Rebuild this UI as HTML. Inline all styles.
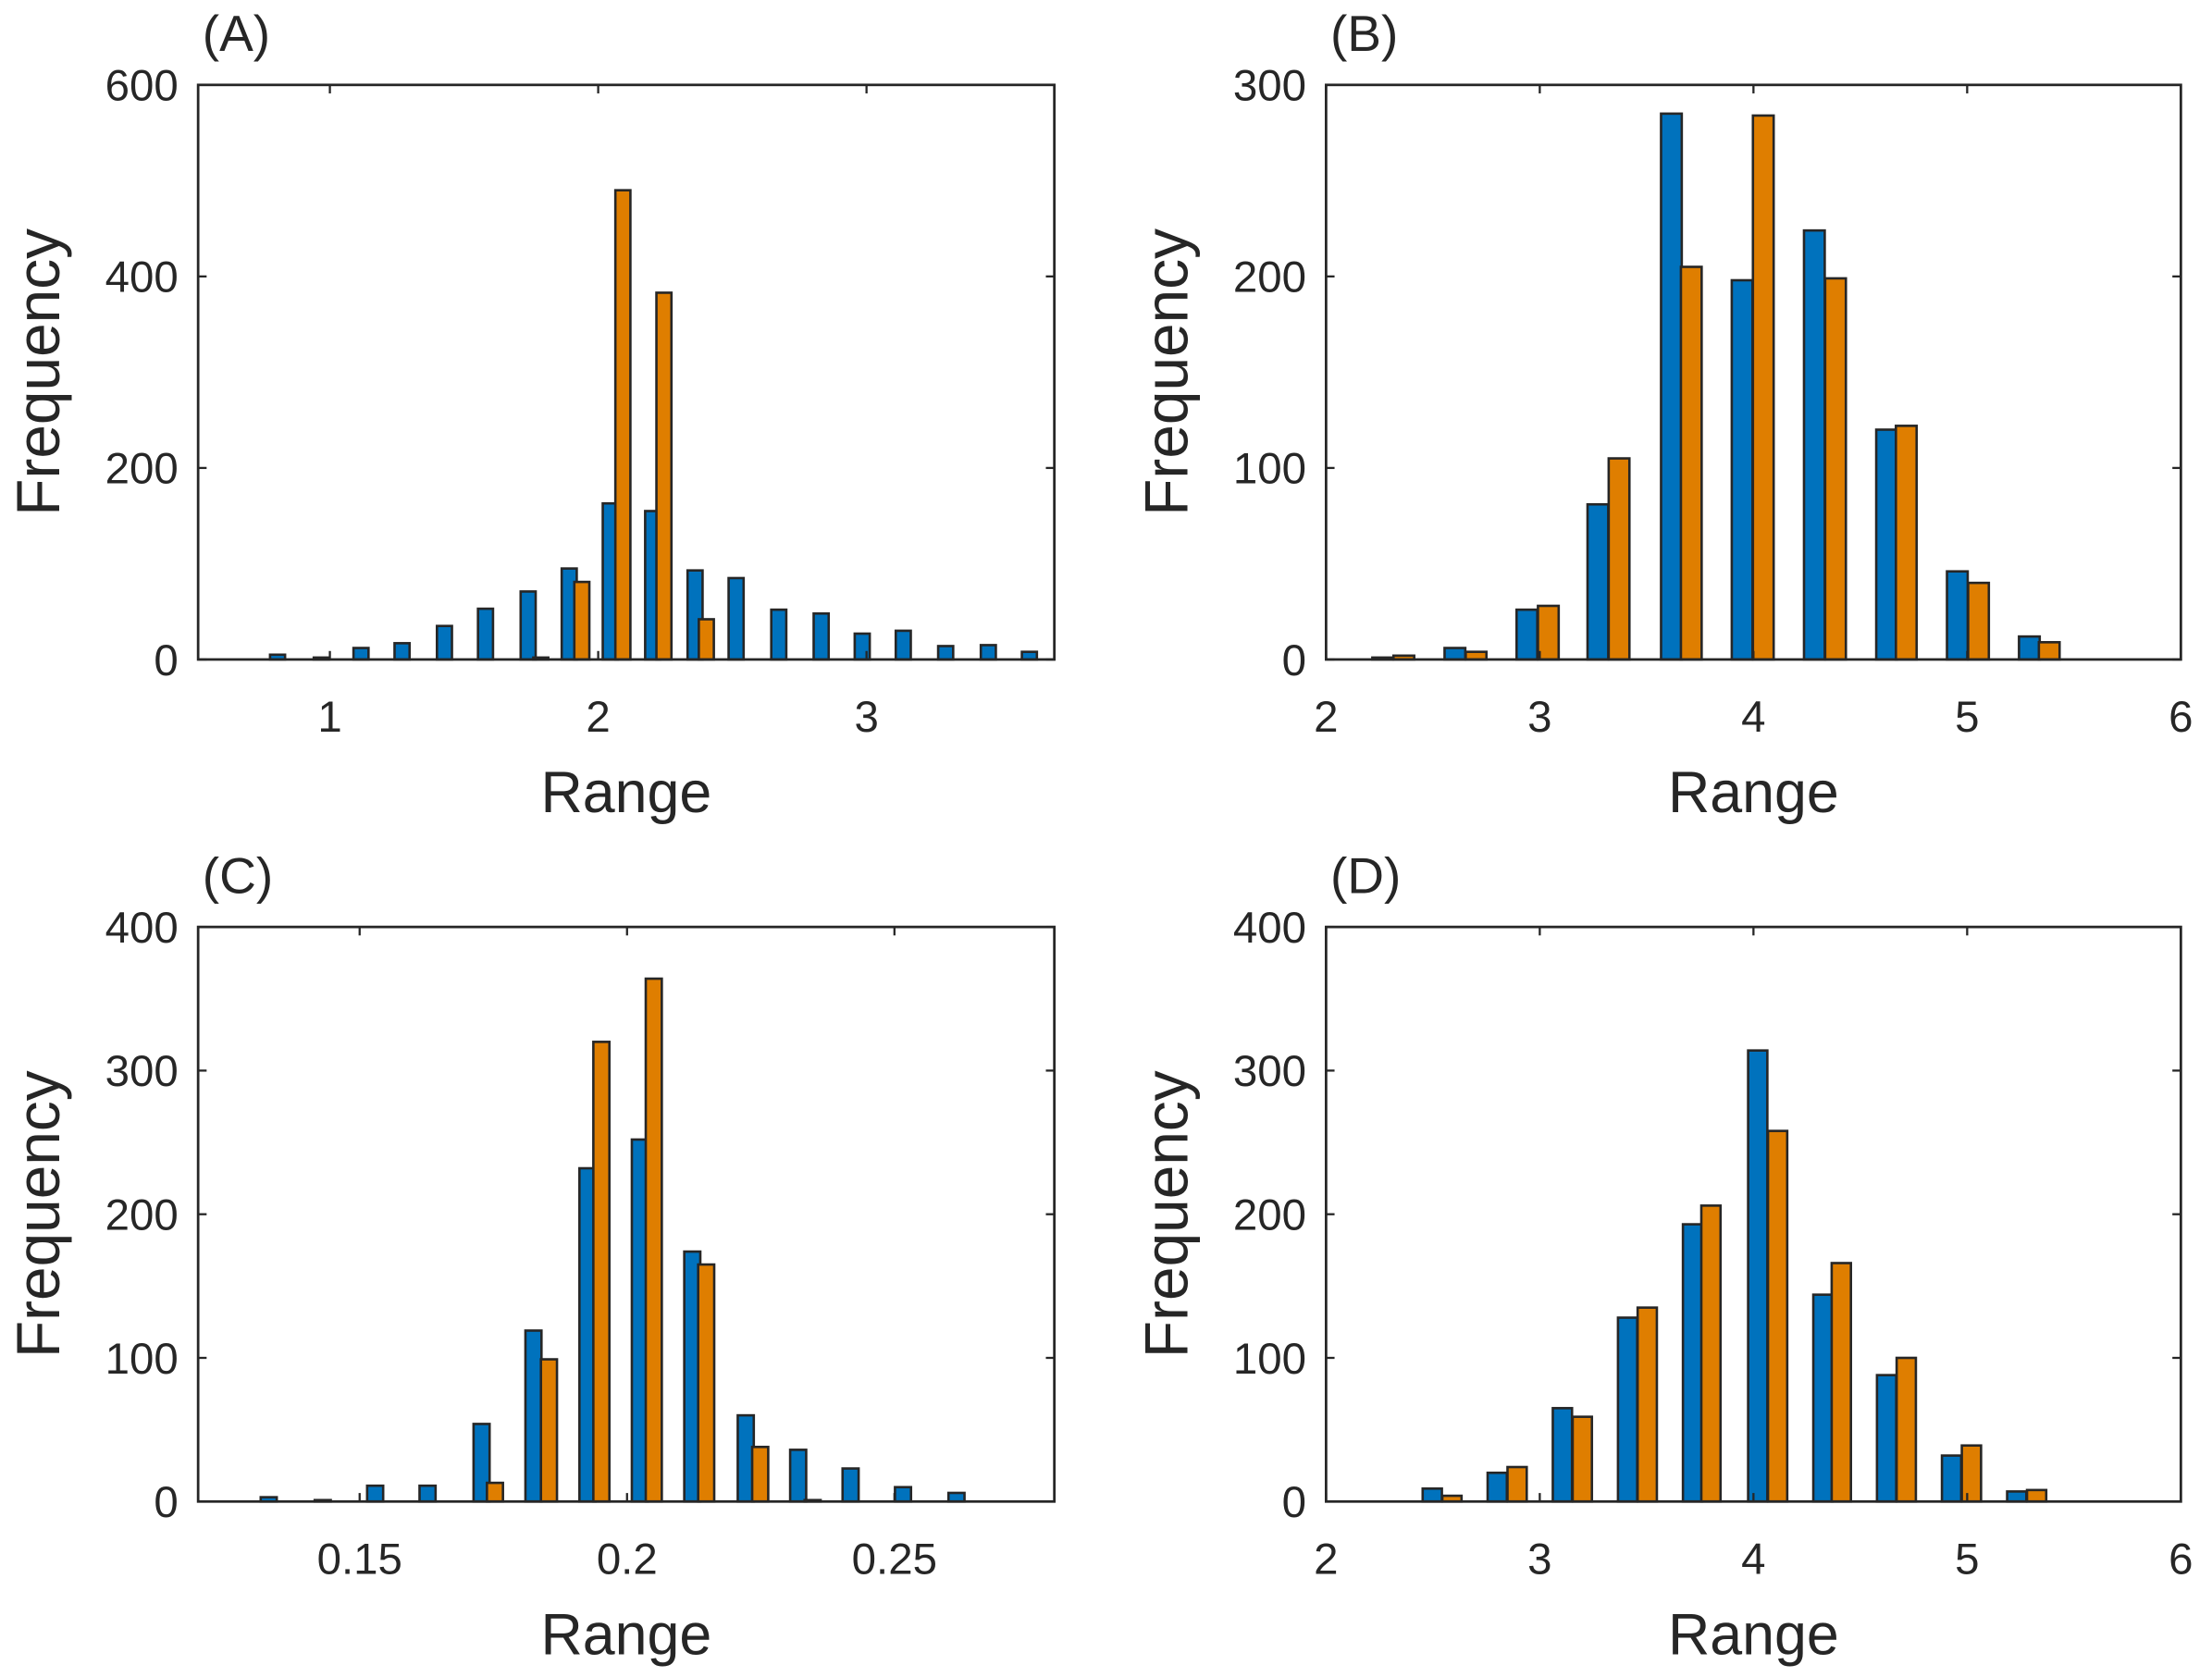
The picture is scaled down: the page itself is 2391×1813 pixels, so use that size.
<!DOCTYPE html>
<html><head><meta charset="utf-8"><style>
html,body{margin:0;padding:0;background:#fff;}
svg{display:block;font-family:"Liberation Sans",sans-serif;}
</style></head><body>
<svg id="fig" width="2391" height="1813" viewBox="0 0 1563 1185" preserveAspectRatio="none" xmlns="http://www.w3.org/2000/svg"></svg>
<script>
// Panel A data
const aBlueX=[0.805,0.968,1.116,1.269,1.427,1.580,1.739,1.892,2.045,2.203,2.361,2.514,2.673,2.831,2.984,3.137,3.295,3.454,3.607];
const aBlueY=[5,2,12,17,35,53,71,95,163,155,93,85,52,48,27,30,14,15,8];
const aOrangeX=[1.786,1.939,2.092,2.245,2.403];
const aOrangeY=[2,81,490,383,42];
// Panel B data
const bBlueX=[2.265,2.603,2.940,3.272,3.616,3.947,4.285,4.623,4.954,5.291];
const bBlueY=[1,6,26,81,285,198,224,120,46,12];
const bOrangeX=[2.364,2.702,3.040,3.371,3.709,4.046,4.384,4.715,5.053,5.384];
const bOrangeY=[2,4,28,105,205,284,199,122,40,9];
// Panel C data
const cBlueX=[0.1330,0.1431,0.1529,0.1627,0.1728,0.1825,0.1926,0.2024,0.2122,0.2222,0.2320,0.2418,0.2516,0.2616];
const cBlueY=[3,1,11,11,54,119,232,252,174,60,36,23,10,6];
const cOrangeX=[0.1753,0.1854,0.1952,0.2050,0.2148,0.2249,0.2347];
const cOrangeY=[13,99,320,364,165,38,1];
// Panel D data
const dBlueX=[2.497,2.801,3.106,3.411,3.715,4.020,4.325,4.623,4.927,5.232];
const dBlueY=[9,20,65,128,193,314,144,88,32,7];
const dOrangeX=[2.589,2.894,3.199,3.503,3.801,4.113,4.411,4.715,5.020,5.325];
const dOrangeY=[4,24,59,135,206,258,166,100,39,8];
// Tick labels
const aXTicks=[1,2,3]; const aYTicks=[0,200,400,600];
const bXTicks=[2,3,4,5,6]; const bYTicks=[0,100,200,300];
const cXTicks=[0.15,0.2,0.25]; const cYTicks=[0,100,200,300,400];
const dXTicks=[2,3,4,5,6]; const dYTicks=[0,100,200,300,400];

const NS="http://www.w3.org/2000/svg";
const svg=document.getElementById('fig');
function mk(tag,attrs,parent){const e=document.createElementNS(NS,tag);for(const k in attrs)e.setAttribute(k,attrs[k]);(parent||svg).appendChild(e);return e;}

function panel(o){
  const g=mk('g',{});
  
  
  const sx=v=>o.x0+(v-o.xmin)/(o.xmax-o.xmin)*(o.x1-o.x0);
  const sy=v=>o.y1-(v-o.ymin)/(o.ymax-o.ymin)*(o.y1-o.y0);
  const draw=(xs,ys,col,name)=>{
    xs.forEach((x,i)=>{
      const w=o.bw/(o.xmax-o.xmin)*(o.x1-o.x0);
      const r=mk('rect',{x:sx(x)-w/2,y:sy(ys[i]),width:w,height:sy(0)-sy(ys[i]),fill:col,stroke:'#262626','stroke-width':1.7},g);
      
      
    });
  };
  draw(o.bx,o.by,'#0072BD','blue');
  draw(o.ox,o.oy,'#DF7E00','orange');
  const box=mk('rect',{x:o.x0,y:o.y0,width:o.x1-o.x0,height:o.y1-o.y0,fill:'none',stroke:'#262626','stroke-width':1.8},g);
  
  
  const tl=6;
  o.xt.forEach(t=>{
    const x=sx(t);
    mk('line',{x1:x,x2:x,y1:o.y1,y2:o.y1-tl,stroke:'#262626','stroke-width':1.5},g);
    mk('line',{x1:x,x2:x,y1:o.y0,y2:o.y0+tl,stroke:'#262626','stroke-width':1.5},g);
    const tx=mk('text',{x:x,y:o.y1+51,'font-size':31,'text-anchor':'middle',fill:'#262626'},g);
    tx.textContent=String(t);
    
    
  });
  o.yt.forEach(t=>{
    const y=sy(t);
    mk('line',{x1:o.x0,x2:o.x0+tl,y1:y,y2:y,stroke:'#262626','stroke-width':1.5},g);
    mk('line',{x1:o.x1,x2:o.x1-tl,y1:y,y2:y,stroke:'#262626','stroke-width':1.5},g);
    const tx=mk('text',{x:o.x0-14,y:y+11,'font-size':31,'text-anchor':'end',fill:'#262626'},g);
    tx.textContent=String(t);
    
    
  });
  const xl=mk('text',{x:(o.x0+o.x1)/2,y:o.y1+108,'font-size':41,'text-anchor':'middle',fill:'#262626'},g);
  xl.textContent='Range';
  
  
  const yx=o.x0-98, yy=(o.y0+o.y1)/2;
  const yl=mk('text',{x:yx,y:yy,'font-size':43,'text-anchor':'middle',fill:'#262626',transform:`rotate(-90 ${yx} ${yy})`},g);
  yl.textContent='Frequency';
  
  
  const pl=mk('text',{x:o.x0+3,y:o.y0-24,'font-size':36,fill:'#262626'},g);
  pl.textContent='('+o.id+')';
  
  
}
panel({id:'A',x0:140,x1:745,y0:60,y1:466,xmin:0.509,xmax:3.70,ymin:0,ymax:600,bw:0.056,bx:aBlueX,by:aBlueY,ox:aOrangeX,oy:aOrangeY,xt:aXTicks,yt:aYTicks});
panel({id:'B',x0:937,x1:1541,y0:60,y1:466,xmin:2,xmax:6,ymin:0,ymax:300,bw:0.097,bx:bBlueX,by:bBlueY,ox:bOrangeX,oy:bOrangeY,xt:bXTicks,yt:bYTicks});
panel({id:'C',x0:140,x1:745,y0:655,y1:1061,xmin:0.1198,xmax:0.2799,ymin:0,ymax:400,bw:0.0030,bx:cBlueX,by:cBlueY,ox:cOrangeX,oy:cOrangeY,xt:cXTicks,yt:cYTicks});
panel({id:'D',x0:937,x1:1541,y0:655,y1:1061,xmin:2,xmax:6,ymin:0,ymax:400,bw:0.090,bx:dBlueX,by:dBlueY,ox:dOrangeX,oy:dOrangeY,xt:dXTicks,yt:dYTicks});
</script>
</body></html>
